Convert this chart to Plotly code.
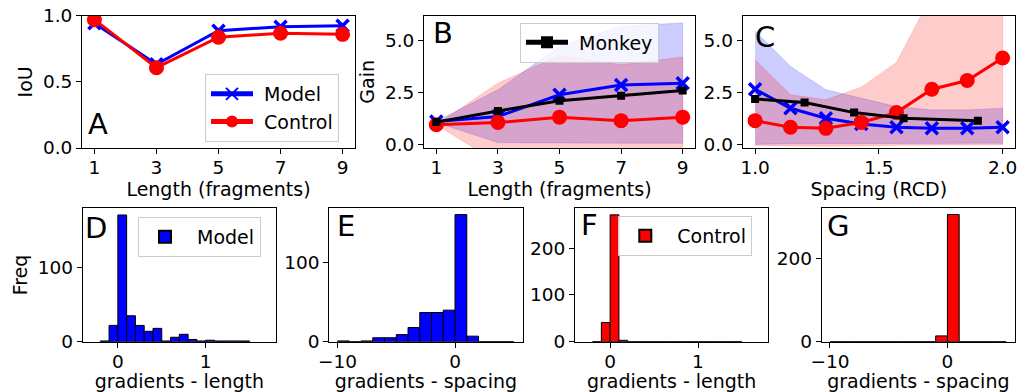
import plotly.graph_objects as go

W, H = 1028, 392

# ---------------- data ----------------
lengths = [1, 3, 5, 7, 9]
iou_model = [0.943, 0.633, 0.887, 0.917, 0.924]
iou_control = [0.970, 0.607, 0.837, 0.867, 0.859]

gain_len_model = [1.10, 1.34, 2.39, 2.86, 2.95]
gain_len_model_lo = [1.05, 0.08, 0.05, 0.05, 0.05]
gain_len_model_hi = [1.10, 2.63, 4.73, 5.70, 5.86]
gain_len_control = [0.94, 1.05, 1.31, 1.14, 1.31]
gain_len_control_lo = [0.95, -0.90, -1.40, -1.20, -1.40]
gain_len_control_hi = [0.95, 2.95, 4.28, 3.84, 4.21]
gain_len_monkey = [1.07, 1.61, 2.10, 2.34, 2.60]

spacings = [1.0, 1.143, 1.286, 1.429, 1.571, 1.714, 1.857, 2.0]
gain_sp_model = [2.66, 1.74, 1.26, 0.98, 0.82, 0.77, 0.77, 0.82]
gain_sp_model_lo = [0.00, 0.02, 0.03, 0.03, 0.05, 0.05, 0.05, 0.05]
gain_sp_model_hi = [5.46, 3.76, 2.63, 2.23, 1.82, 1.66, 1.66, 1.74]
gain_sp_control = [1.14, 0.82, 0.77, 1.05, 1.53, 2.66, 3.08, 4.17]
gain_sp_control_lo = [-0.05, -0.08, -0.10, -0.08, -0.05, -0.02, -0.02, -0.02]
gain_sp_control_hi = [4.08, 2.39, 2.15, 2.76, 3.95, 7.20, 8.50, 10.0]
monkey_spacings = [1.0, 1.2, 1.4, 1.6, 1.9]
gain_sp_monkey = [2.19, 2.02, 1.53, 1.26, 1.14]

len_bin_edges = [-0.2, -0.1, 0.0, 0.1, 0.2, 0.3, 0.4, 0.5, 0.6, 0.7, 0.8,
                 0.9, 1.0, 1.1, 1.2, 1.3, 1.4, 1.5]
len_counts_model = [1, 22, 171, 35, 22, 14, 18, 1, 6, 10, 3, 1, 2, 1, 1, 1, 1]
len_counts_control = [0, 41, 271, 3, 0, 0, 0, 0, 0, 0, 0, 0, 0, 0, 0, 0, 0]

sp_bin_edges = [-10, -9, -8, -7, -6, -5, -4, -3, -2, -1, 0, 1, 2, 3, 4, 5]
sp_counts_model = [1, 0, 1, 5, 5, 9, 18, 37, 37, 40, 161, 7, 0, 0, 0]
sp_counts_control = [0, 0, 0, 0, 0, 0, 0, 0, 0, 14, 306, 0, 0, 0, 0]

# ---------------- styling ----------------
BLUE = "rgb(0,0,255)"
RED = "rgb(255,0,0)"
FONT = "DejaVu Sans"
TICK_FS = 18.5
TITLE_FS = 19
LEG_FS = 19
NB = "\u00a0"  # small gap between legend symbol and label, as in the reference

fig = go.Figure()


def px_x(v):
    return v / W


def px_y(v):
    return 1 - v / H


def band(xs, lo, hi, color, xa, ya):
    fig.add_trace(go.Scatter(
        x=list(xs) + list(xs)[::-1], y=list(hi) + list(lo)[::-1],
        fill="toself", fillcolor=color, line=dict(width=0.8, color=color),
        mode="lines", showlegend=False, hoverinfo="skip", xaxis=xa, yaxis=ya))


def model_line(xs, ys, xa, ya, legend=None, show=False):
    fig.add_trace(go.Scatter(
        x=xs, y=ys, mode="lines+markers", name=NB + "Model",
        line=dict(color=BLUE, width=3),
        marker=dict(symbol="x-thin", size=12, line=dict(width=3.5, color=BLUE), color=BLUE),
        showlegend=show, legend=legend or "legend", xaxis=xa, yaxis=ya))


def control_line(xs, ys, xa, ya, legend=None, show=False):
    fig.add_trace(go.Scatter(
        x=xs, y=ys, mode="lines+markers", name=NB + "Control",
        line=dict(color=RED, width=3),
        marker=dict(symbol="circle", size=15, color=RED),
        showlegend=show, legend=legend or "legend", xaxis=xa, yaxis=ya))


def monkey_line(xs, ys, xa, ya, legend=None, show=False):
    fig.add_trace(go.Scatter(
        x=xs, y=ys, mode="lines+markers", name=NB + "Monkey",
        line=dict(color="black", width=3),
        marker=dict(symbol="square", size=8, color="black"),
        showlegend=show, legend=legend or "legend", xaxis=xa, yaxis=ya))


def hist(edges, counts, color, name, xa, ya, legend, show):
    centers = [(edges[i] + edges[i + 1]) / 2 for i in range(len(counts))]
    widths = [edges[i + 1] - edges[i] for i in range(len(counts))]
    fig.add_trace(go.Bar(
        x=centers, y=counts, width=widths, name=NB + name,
        marker=dict(color=color, line=dict(color="black", width=1)),
        showlegend=show, legend=legend, xaxis=xa, yaxis=ya))


# A
model_line(lengths, iou_model, "x", "y", "legend", True)
control_line(lengths, iou_control, "x", "y", "legend", True)

# B
band(lengths, gain_len_model_lo, gain_len_model_hi, "rgba(0,0,255,0.2)", "x2", "y2")
band(lengths, gain_len_control_lo, gain_len_control_hi, "rgba(255,0,0,0.2)", "x2", "y2")
model_line(lengths, gain_len_model, "x2", "y2")
control_line(lengths, gain_len_control, "x2", "y2")
monkey_line(lengths, gain_len_monkey, "x2", "y2", "legend2", True)

# C
band(spacings, gain_sp_model_lo, gain_sp_model_hi, "rgba(0,0,255,0.2)", "x3", "y3")
band(spacings, gain_sp_control_lo, gain_sp_control_hi, "rgba(255,0,0,0.2)", "x3", "y3")
model_line(spacings, gain_sp_model, "x3", "y3")
control_line(spacings, gain_sp_control, "x3", "y3")
monkey_line(monkey_spacings, gain_sp_monkey, "x3", "y3")

# D-G
hist(len_bin_edges, len_counts_model, BLUE, "Model", "x4", "y4", "legend3", True)
hist(sp_bin_edges, sp_counts_model, BLUE, "Model", "x5", "y5", "legend3", False)
hist(len_bin_edges, len_counts_control, RED, "Control", "x6", "y6", "legend4", True)
hist(sp_bin_edges, sp_counts_control, RED, "Control", "x7", "y7", "legend4", False)

# ---------------- axes ----------------
ax_common = dict(showline=True, linecolor="black", linewidth=1, mirror=True,
                 ticks="outside", ticklen=5, tickwidth=1, tickcolor="black",
                 showgrid=False, zeroline=False, automargin=False,
                 tickfont=dict(family=FONT, size=TICK_FS, color="black"))
x_common = dict(ax_common, ticklabelstandoff=-2)

top_y = [px_y(148), px_y(15.7)]
bot_y = [px_y(341.7), px_y(208.3)]


def xt(text, standoff=5):
    return dict(text=text, font=dict(family=FONT, size=TITLE_FS, color="black"), standoff=standoff)


layout_axes = {}
# A
layout_axes["xaxis"] = dict(x_common, domain=[px_x(82), px_x(355)], anchor="y",
                            range=[0.6, 9.4], tickvals=lengths, title=xt("Length (fragments)"))
layout_axes["yaxis"] = dict(ax_common, domain=top_y, anchor="x", range=[0, 1],
                            tickvals=[0, 0.5, 1.0], tickformat=".1f", title=xt("IoU", 5))
# B
layout_axes["xaxis2"] = dict(x_common, domain=[px_x(424), px_x(695)], anchor="y2",
                             range=[0.6, 9.4], tickvals=lengths, title=xt("Length (fragments)"))
layout_axes["yaxis2"] = dict(ax_common, domain=top_y, anchor="x2", range=[-0.18, 6.21],
                             tickvals=[0, 2.5, 5.0], tickformat=".1f", title=xt("Gain", 5))
# C
layout_axes["xaxis3"] = dict(x_common, domain=[px_x(742.7), px_x(1015)], anchor="y3",
                             range=[0.95, 2.05], tickvals=[1.0, 1.5, 2.0], tickformat=".1f",
                             title=xt("Spacing (RCD)"))
layout_axes["yaxis3"] = dict(ax_common, domain=top_y, anchor="x3", range=[-0.18, 6.21],
                             tickvals=[0, 2.5, 5.0], tickformat=".1f")
# D
layout_axes["xaxis4"] = dict(x_common, domain=[px_x(82.7), px_x(276)], anchor="y4",
                             range=[-0.4, 1.8], tickvals=[0, 1], title=xt("gradients - length"))
layout_axes["yaxis4"] = dict(ax_common, domain=bot_y, anchor="x4", range=[0, 180],
                             tickvals=[0, 100], title=xt("Freq", 5))
# E
layout_axes["xaxis5"] = dict(x_common, domain=[px_x(329.3), px_x(522.6)], anchor="y5",
                             range=[-10.7, 5.75], tickvals=[-10, 0], title=xt("gradients - spacing"))
layout_axes["yaxis5"] = dict(ax_common, domain=bot_y, anchor="x5", range=[0, 169],
                             tickvals=[0, 100])
# F
layout_axes["xaxis6"] = dict(x_common, domain=[px_x(575), px_x(768.3)], anchor="y6",
                             range=[-0.4, 1.8], tickvals=[0, 1], title=xt("gradients - length"))
layout_axes["yaxis6"] = dict(ax_common, domain=bot_y, anchor="x6", range=[0, 285],
                             tickvals=[0, 100, 200])
# G
layout_axes["xaxis7"] = dict(x_common, domain=[px_x(821.7), px_x(1015)], anchor="y7",
                             range=[-10.7, 5.75], tickvals=[-10, 0], title=xt("gradients - spacing"))
layout_axes["yaxis7"] = dict(ax_common, domain=bot_y, anchor="x7", range=[0, 321],
                             tickvals=[0, 200])

leg_common = dict(xanchor="left", yanchor="top", bgcolor="rgba(255,255,255,0.8)",
                  bordercolor="#cccccc", borderwidth=1, itemwidth=42,
                  font=dict(family=FONT, size=LEG_FS, color="black"), itemsizing="constant")

fig.update_layout(
    width=W, height=H, margin=dict(l=0, r=0, t=0, b=0),
    paper_bgcolor="white", plot_bgcolor="white",
    font=dict(family=FONT, size=LEG_FS, color="black"),
    barmode="overlay",
    legend=dict(leg_common, x=px_x(205), y=px_y(74)),
    legend2=dict(leg_common, x=px_x(520), y=px_y(22.5)),
    legend3=dict(leg_common, x=px_x(138), y=px_y(217)),
    legend4=dict(leg_common, x=px_x(618.3), y=px_y(216)),
    **layout_axes,
)

letters = [("A", 88.3, 124.2), ("B", 432.7, 33), ("C", 755, 36.5),
           ("D", 85, 228.3), ("E", 336.7, 226.2), ("F", 580.7, 225), ("G", 826.7, 225.8)]
for t, lx, ly in letters:
    fig.add_annotation(text=t, x=px_x(lx), y=px_y(ly), xref="paper", yref="paper",
                       xanchor="left", yanchor="middle", showarrow=False,
                       font=dict(family=FONT, size=29, color="black"), xshift=-2)

fig.write_html("out.html")
